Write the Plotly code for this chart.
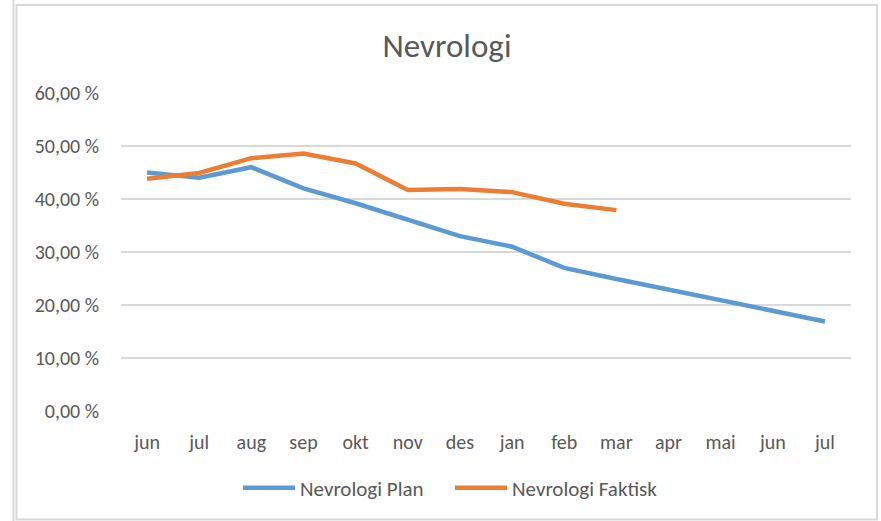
"""
Nevrologi: plan vs actual share, month by month (Excel-style line chart).
"""

import plotly.graph_objects as go

# Month labels (two years of overlap, so labels repeat)
MONTHS = ["jun", "jul", "aug", "sep", "okt", "nov", "des",
          "jan", "feb", "mar", "apr", "mai", "jun", "jul"]

# Share in percent
PLAN = [45.0, 44.0, 46.0, 42.0, 39.2, 36.0, 33.0,
        31.0, 27.0, 24.9, 22.9, 21.0, 18.9, 16.9]
FAKTISK = [43.8, 44.9, 47.7, 48.6, 46.7, 41.7, 41.9,
           41.3, 39.1, 37.9]

Y_TICKS = [0, 10, 20, 30, 40, 50, 60]

BLUE = "#5B9BD5"
ORANGE = "#ED7D31"
TEXT = "#595959"
GRID = "#D9D9D9"
FONT = "Calibri, Carlito, Lato, sans-serif"

# Page geometry (px) -> plot area
W, H = 881, 521
L, R, T, B = 121, 30, 93, 110
PW, PH = W - L - R, H - T - B


def px_x(x):
    return (x - L) / PW


def px_y(y):
    return (H - B - y) / PH


x_idx = list(range(len(MONTHS)))

fig = go.Figure()
fig.add_trace(go.Scatter(
    x=x_idx,
    y=PLAN,
    mode="lines",
    name="Nevrologi Plan",
    line=dict(color=BLUE, width=4.5),
))
fig.add_trace(go.Scatter(
    x=x_idx[:len(FAKTISK)],
    y=FAKTISK,
    mode="lines",
    name="Nevrologi Faktisk",
    line=dict(color=ORANGE, width=4.5),
))

# Excel window chrome: a side rule and the chart border
shapes = [
    dict(type="line", xref="paper", yref="paper",
         x0=px_x(13.5), x1=px_x(13.5), y0=px_y(0), y1=px_y(H),
         line=dict(color=GRID, width=2)),
    dict(type="rect", xref="paper", yref="paper",
         x0=px_x(16.5), x1=px_x(877), y0=px_y(5), y1=px_y(519.5),
         line=dict(color=GRID, width=2)),
]

fig.update_layout(
    width=W,
    height=H,
    title=dict(text="Nevrologi", x=447 / W, xref="container",
               xanchor="center", y=1 - 45 / H, yanchor="middle",
               font=dict(size=33, color=TEXT, family=FONT)),
    paper_bgcolor="white",
    plot_bgcolor="white",
    font=dict(family=FONT, color=TEXT, size=20),
    margin=dict(l=L, r=R, t=T, b=B),
    showlegend=True,
    legend=dict(
        orientation="h",
        x=px_x(238), xanchor="left",
        y=px_y(488), yanchor="middle",
        font=dict(size=21, color=TEXT, family=FONT),
        itemwidth=52,
        entrywidth=145,
        tracegroupgap=0,
    ),
    xaxis=dict(
        range=[-0.5, len(MONTHS) - 0.5],
        tickmode="array",
        tickvals=x_idx,
        ticktext=MONTHS,
        showgrid=False,
        zeroline=False,
        showline=False,
        ticks="outside",
        ticklen=13,
        tickcolor="rgba(0,0,0,0)",
        tickfont=dict(size=20, color=TEXT),
        fixedrange=True,
    ),
    yaxis=dict(
        range=[0, 60],
        tickmode="array",
        tickvals=Y_TICKS,
        ticktext=[f"{v:.2f}".replace(".", ",") + " %" for v in Y_TICKS],
        showgrid=True,
        gridcolor=GRID,
        gridwidth=1.5,
        zeroline=False,
        showline=False,
        ticks="outside",
        ticklen=17,
        tickcolor="rgba(0,0,0,0)",
        tickfont=dict(size=20, color=TEXT),
        fixedrange=True,
    ),
    shapes=shapes,
)

# page body has a default margin; drop it so the chart sits at 0,0
fig.write_html("out.html", config={"displayModeBar": False},
               post_script="document.body.style.margin='0';")
